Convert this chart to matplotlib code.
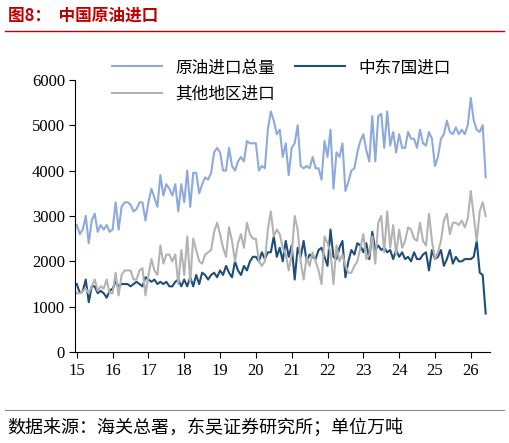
import matplotlib
matplotlib.use("Agg")
import matplotlib.pyplot as plt
from matplotlib.lines import Line2D

total = [2800,2600,2700,3000,2400,2900,3050,2650,2800,2700,2800,2650,
 2700,3300,2700,3200,3300,3300,3250,3100,3150,3300,3300,2900,
 3300,3600,3400,3200,3900,3450,3700,3600,3450,3700,3100,3700,
 3300,4000,3200,3950,3950,3500,3700,3850,3800,3950,4400,4500,
 4400,4000,4000,4500,4100,4000,4200,4300,4200,4650,4600,4600,
 4600,4000,4100,4050,4900,5300,5100,4800,4900,4300,4600,3900,
 4500,4600,5000,4100,4050,4100,4050,4300,4050,4050,3800,4650,
 4300,4900,3600,4400,4300,4600,3550,3750,4000,4050,4400,4650,
 4800,4450,4200,5200,4200,5200,5250,4500,5300,4550,4850,4400,
 4800,4500,4500,4850,4700,4700,4500,4900,4600,4550,4850,4700,
 4100,4300,4700,4800,5100,4850,4800,4950,4800,4900,4800,5000,
 5600,5100,4900,4850,5000,3850]
mideast = [1500,1300,1350,1600,1100,1450,1450,1300,1350,1300,1200,1350,
 1400,1550,1450,1500,1500,1500,1450,1500,1550,1500,1450,1650,
 1600,1550,1600,1500,1550,1500,1550,1450,1450,1550,1600,1450,
 1600,1450,1650,1450,1700,1500,1750,1700,1600,1700,1750,1650,
 1800,1700,1900,1750,1650,2000,1800,1700,1900,1800,2000,2100,
 2100,2000,2200,2050,2200,2200,2550,2100,2300,2000,2450,2100,
 2350,1600,2300,2100,2450,2000,2150,2100,2050,2250,2300,2100,
 1900,2700,2100,2050,2300,2450,1650,2000,2250,2150,2400,2350,
 2200,2400,2050,2650,2250,2350,2250,2300,2200,2250,2050,2250,
 2100,2200,2050,2100,2000,2200,2050,2050,2150,2200,1800,2250,
 2050,2100,2250,1900,2050,2250,1950,2100,2000,2000,2050,2050,
 2050,2100,2450,1750,1700,850]
other = [1300,1300,1350,1400,1300,1450,1600,1350,1450,1400,1600,1300,
 1300,1750,1250,1700,1800,1800,1800,1600,1600,1800,1850,1250,
 1700,2050,1800,1700,2350,1950,2150,2150,2000,2150,1500,2250,
 1700,2550,1550,2500,2250,2000,1950,2150,2200,2250,2650,2850,
 2600,2300,2100,2750,2450,2000,2400,2600,2300,2850,2600,2500,
 2500,2000,1900,2000,2700,3100,2550,2700,2600,2300,2150,1800,
 2150,3000,2700,2000,1600,2100,1900,2200,2000,1800,1500,2550,
 2400,2200,1500,2350,2000,2150,1900,1750,1750,1900,2000,2300,
 2600,2050,2150,2550,1950,2850,3000,2200,3100,2300,2800,2150,
 2700,2300,2450,2750,2700,2500,2450,2850,2450,2350,3050,2450,
 2050,2200,2450,2900,3050,2600,2850,2850,2800,2900,2750,2950,
 3550,3000,2450,3100,3300,3000]
year_labels = ["15","16","17","18","19","20","21","22","23","24","25","26"]
names = ["原油进口总量", "中东7国进口", "其他地区进口"]

cjk = ["Noto Sans CJK SC", "DejaVu Sans"]
fig = plt.figure(figsize=(5.09, 4.43), dpi=100)
ax = fig.add_axes([0.148, 0.205, 0.815, 0.615])
x = list(range(len(total)))
c1, c2, c3 = "#8EAADB", "#1F4E79", "#B3B3B3"
ax.plot(x, total, color=c1, lw=1.5)
ax.plot(x, mideast, color=c2, lw=1.5)
ax.plot(x, other, color=c3, lw=1.5)
ax.set_ylim(0, 6000)
ax.set_xlim(-0.5, len(total) + 0.5)
ax.set_yticks(range(0, 6001, 1000))
ax.set_xticks([i * 12 for i in range(len(year_labels))])
ax.set_xticklabels(year_labels)
for lab in ax.get_xticklabels() + ax.get_yticklabels():
    lab.set_family("Liberation Serif"); lab.set_fontsize(12)
for s in ["top", "right"]:
    ax.spines[s].set_visible(False)
ax.tick_params(direction="out", length=4)

h = [Line2D([], [], color=c, lw=1.5) for c in (c1, c2, c3)]
fig.legend(h[:2], names[:2], loc="upper left", bbox_to_anchor=(0.19, 0.9),
           ncol=2, frameon=False, prop={"family": cjk, "size": 12},
           handlelength=3, columnspacing=1.2)
fig.legend(h[2:], names[2:], loc="upper left", bbox_to_anchor=(0.19, 0.84),
           frameon=False, prop={"family": cjk, "size": 12}, handlelength=3)

fig.text(0.015, 0.965, "图8：  中国原油进口", family=cjk, fontsize=12, weight="bold",
         color="#C00000", va="center")
fig.add_artist(Line2D([0.01, 0.99], [0.93, 0.93], color="#C00000", lw=1))
fig.add_artist(Line2D([0.01, 0.99], [0.075, 0.075], color="#888888", lw=0.8))
fig.text(0.015, 0.035, "数据来源：海关总署，东吴证券研究所；单位万吨", family=cjk,
         fontsize=13, va="center")
fig.savefig("out.png", dpi=100)
